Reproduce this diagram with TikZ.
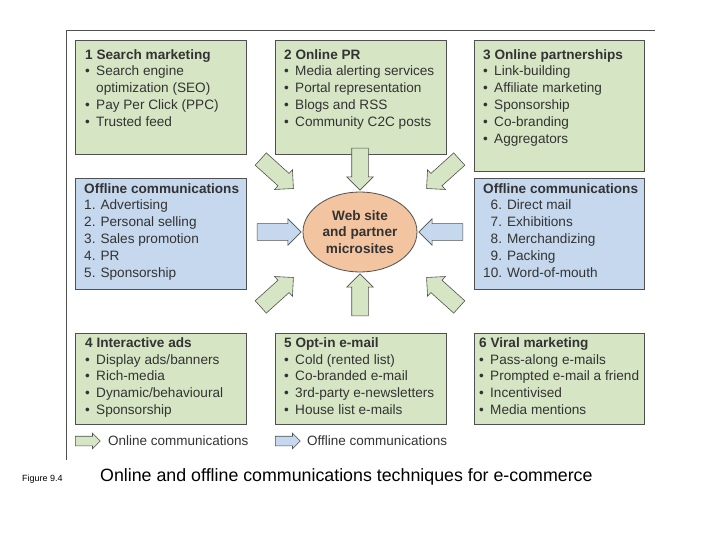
\documentclass[tikz,border=0pt]{standalone}
\usepackage{fontspec}
\setmainfont{Liberation Sans}
\usetikzlibrary{shapes.geometric,shapes.arrows}
\definecolor{gfill}{HTML}{D6E6C4}
\definecolor{bfill}{HTML}{C5D8EE}
\definecolor{ofill}{HTML}{F2C4A0}
\definecolor{bord}{HTML}{505050}
\definecolor{txt}{HTML}{333333}
\newcommand{\bl}{\makebox[11pt][l]{•}}
\newcommand{\ind}{\hspace*{11pt}}
\newcommand{\bfont}{\fontsize{13.6}{16.8}\selectfont}
\tikzset{
 box/.style={draw=bord, line width=0.8pt, anchor=north west, inner sep=0pt},
 gbox/.style={box, fill=gfill},
 bbox/.style={box, fill=bfill},
 btext/.style={anchor=north west, align=left, text=txt, font=\bfont, inner sep=0pt},
 barrow/.style={single arrow, draw=bord, line width=0.6pt, single arrow head extend=5pt, inner sep=0pt, minimum height=42pt},
 garrow/.style={barrow, fill=gfill},
 oarrow/.style={barrow, fill=bfill},
 larrow/.style={single arrow, draw=bord, line width=0.6pt, single arrow head extend=3pt, inner sep=0pt, minimum height=25pt, anchor=west},
}
\newcommand{\sh}{\rule{0pt}{16pt}}
\newcommand{\lsh}{\rule{0pt}{9pt}}
\begin{document}
\begin{tikzpicture}[x=1pt,y=-1pt]
\useasboundingbox (0,0) rectangle (720,540);
\draw[bord, line width=0.8pt] (66,460) coordinate (f1) -- (66,30) coordinate (f2) -- (655,30) coordinate (f3);
% boxes
\path (75,40) node[gbox, minimum width=171pt, minimum height=114pt] (b1) {};
\node[btext] (t1) at (85,49) {\textbf{1 Search marketing}\\\bl Search engine\\\ind optimization (SEO)\\\bl Pay Per Click (PPC)\\\bl Trusted feed};
\path (275,40) node[gbox, minimum width=171pt, minimum height=114pt] (b2) {};
\node[btext] (t2) at (284,49) {\textbf{2 Online PR}\\\bl Media alerting services\\\bl Portal representation\\\bl Blogs and RSS\\\bl Community C2C posts};
\path (474,40) node[gbox, minimum width=170pt, minimum height=131pt] (b3) {};
\node[btext] (t3) at (483,49) {\textbf{3 Online partnerships}\\\bl Link-building\\\bl Affiliate marketing\\\bl Sponsorship\\\bl Co-branding\\\bl Aggregators};
\path (75,178) node[bbox, minimum width=171pt, minimum height=111pt] (b4) {};
\node[btext] (t4) at (84,183) {\textbf{Offline communications}\\1. Advertising\\2. Personal selling\\3. Sales promotion\\4. PR\\5. Sponsorship};
\path (474,178) node[bbox, minimum width=170pt, minimum height=111pt] (b5) {};
\node[btext] (t5) at (483,183) {\textbf{Offline communications}\\\hspace*{7.5pt}6. Direct mail\\\hspace*{7.5pt}7. Exhibitions\\\hspace*{7.5pt}8. Merchandizing\\\hspace*{7.5pt}9. Packing\\10. Word-of-mouth};
\path (75,333) node[gbox, minimum width=171pt, minimum height=91pt] (b6) {};
\node[btext] (t6) at (85,333) {\rule{0pt}{14pt}\textbf{4 Interactive ads}\\\bl Display ads/banners\\\bl Rich-media\\\bl Dynamic/behavioural\\\bl Sponsorship};
\path (275,333) node[gbox, minimum width=171pt, minimum height=91pt] (b7) {};
\node[btext] (t7) at (284,333) {\rule{0pt}{14pt}\textbf{5 Opt-in e-mail}\\\bl Cold (rented list)\\\bl Co-branded e-mail\\\bl 3rd-party e-newsletters\\\bl House list e-mails};
\path (474,333) node[gbox, minimum width=170pt, minimum height=91pt] (b8) {};
\node[btext] (t8) at (479,333) {\rule{0pt}{14pt}\textbf{6 Viral marketing}\\\bl Pass-along e-mails\\\bl Prompted e-mail a friend\\\bl Incentivised\\\bl Media mentions};
% centre
\node[ellipse, draw=bord, line width=0.8pt, fill=ofill, minimum width=114pt, minimum height=80pt, inner sep=0pt, align=center, text=txt, font=\bfont\bfseries] (c) at (360,232) {Web site\\and partner\\microsites};
% arrows
\node[garrow, rotate=-90] (a1) at (360,165) {\sh};
\node[garrow, rotate=-42, minimum height=44pt] (a2) at (274,171) {\sh};
\node[garrow, rotate=-138, minimum height=44pt] (a3) at (446,171) {\sh};
\node[oarrow, minimum height=44pt] (a4) at (275,232) {\sh};
\node[oarrow, rotate=180, minimum height=44pt] (a5) at (445,232) {\sh};
\node[garrow, rotate=90] (a6) at (360,299) {\sh};
\node[garrow, rotate=42, minimum height=44pt] (a7) at (274,295) {\sh};
\node[garrow, rotate=138, minimum height=44pt] (a8) at (446,295) {\sh};
% legend
\node[larrow, fill=gfill] (l1) at (75,441) {\lsh};
\node[anchor=west, text=txt, font=\fontsize{13.5}{14}\selectfont, inner sep=0pt] (lt1) at (108,441) {Online communications};
\node[larrow, fill=bfill] (l2) at (275,441) {\lsh};
\node[anchor=west, text=txt, font=\fontsize{13.5}{14}\selectfont, inner sep=0pt] (lt2) at (307,441) {Offline communications};
% caption
\node[anchor=base west, inner sep=0pt, font=\fontsize{9}{10}\selectfont] (cap1) at (22,481) {Figure 9.4};
\node[anchor=base west, inner sep=0pt, font=\fontsize{17.8}{20}\selectfont] (cap2) at (100,481) {Online and offline communications techniques for e-commerce};
\end{tikzpicture}
\end{document}
